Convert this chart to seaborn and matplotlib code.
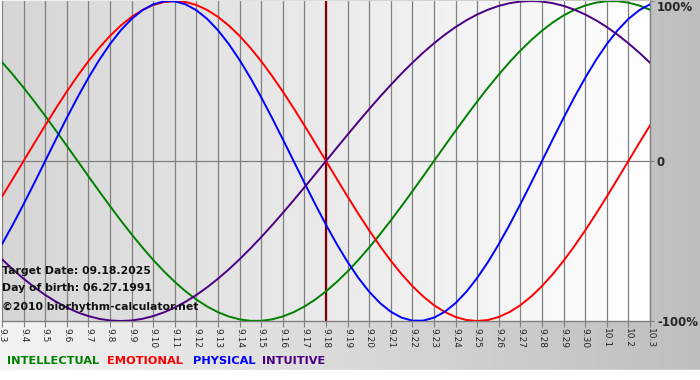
import numpy as np
import pandas as pd
import matplotlib
matplotlib.use("Agg")
import matplotlib.pyplot as plt
import seaborn as sns
from matplotlib.colors import LinearSegmentedColormap

# ---- data (at half-day steps, 9.3 .. 10.3) ----
dates = ["9.3", "9.4", "9.5", "9.6", "9.7", "9.8", "9.9", "9.10", "9.11", "9.12",
         "9.13", "9.14", "9.15", "9.16", "9.17", "9.18", "9.19", "9.20", "9.21", "9.22",
         "9.23", "9.24", "9.25", "9.26", "9.27", "9.28", "9.29", "9.30", "10.1", "10.2", "10.3"]

physical = [-0.5196, -0.3984, -0.2698, -0.1362, 0.0,
            0.1362, 0.2698, 0.3984, 0.5196, 0.6311, 0.7308, 0.8170, 0.8879, 0.9423, 0.9791, 0.9977,
            0.9977, 0.9791, 0.9423, 0.8879, 0.8170, 0.7308, 0.6311, 0.5196, 0.3984, 0.2698, 0.1362,
            0.0,
            -0.1362, -0.2698, -0.3984, -0.5196, -0.6311, -0.7308, -0.8170, -0.8879, -0.9423, -0.9791, -0.9977,
            -0.9977, -0.9791, -0.9423, -0.8879, -0.8170, -0.7308, -0.6311, -0.5196, -0.3984, -0.2698, -0.1362,
            0.0,
            0.1362, 0.2698, 0.3984, 0.5196, 0.6311, 0.7308, 0.8170, 0.8879, 0.9423, 0.9791]

emotional = [-0.2225, -0.1120, 0.0,
             0.1120, 0.2225, 0.3303, 0.4339, 0.5320, 0.6235, 0.7071, 0.7818, 0.8467, 0.9010, 0.9439, 0.9749, 0.9937,
             1.0,
             0.9937, 0.9749, 0.9439, 0.9010, 0.8467, 0.7818, 0.7071, 0.6235, 0.5320, 0.4339, 0.3303, 0.2225, 0.1120,
             0.0,
             -0.1120, -0.2225, -0.3303, -0.4339, -0.5320, -0.6235, -0.7071, -0.7818, -0.8467, -0.9010, -0.9439, -0.9749, -0.9937,
             -1.0,
             -0.9937, -0.9749, -0.9439, -0.9010, -0.8467, -0.7818, -0.7071, -0.6235, -0.5320, -0.4339, -0.3303, -0.2225, -0.1120,
             0.0, 0.1120, 0.2225]

intellectual = [0.6182, 0.5406, 0.4582, 0.3717, 0.2817, 0.1893, 0.0951, 0.0,
                -0.0951, -0.1893, -0.2817, -0.3717, -0.4582, -0.5406, -0.6182, -0.6901, -0.7557, -0.8146,
                -0.8660, -0.9096, -0.9450, -0.9718, -0.9898, -0.9989, -0.9989, -0.9898, -0.9718, -0.9450,
                -0.9096, -0.8660, -0.8146, -0.7557, -0.6901, -0.6182, -0.5406, -0.4582, -0.3717, -0.2817,
                -0.1893, -0.0951, 0.0,
                0.0951, 0.1893, 0.2817, 0.3717, 0.4582, 0.5406, 0.6182, 0.6901, 0.7557, 0.8146,
                0.8660, 0.9096, 0.9450, 0.9718, 0.9898, 0.9989, 0.9989, 0.9898, 0.9718, 0.9450]

intuitive = [-0.6142, -0.6773, -0.7357, -0.7891, -0.8372, -0.8795, -0.9158, -0.9458, -0.9694, -0.9864,
             -0.9966, -1.0, -0.9966, -0.9864, -0.9694, -0.9458, -0.9158, -0.8795, -0.8372, -0.7891,
             -0.7357, -0.6773, -0.6142, -0.5469, -0.4759, -0.4017, -0.3247, -0.2455, -0.1646, -0.0826,
             0.0,
             0.0826, 0.1646, 0.2455, 0.3247, 0.4017, 0.4759, 0.5469, 0.6142, 0.6773, 0.7357,
             0.7891, 0.8372, 0.8795, 0.9158, 0.9458, 0.9694, 0.9864, 0.9966, 1.0, 0.9966,
             0.9864, 0.9694, 0.9458, 0.9158, 0.8795, 0.8372, 0.7891, 0.7357, 0.6773, 0.6142]

series_names = ["INTELLECTUAL", "EMOTIONAL", "PHYSICAL", "INTUITIVE"]
series_values = [intellectual, emotional, physical, intuitive]
series_colors = ["#008000", "#ff0000", "#0000ff", "#4b0082"]

target_label = "9.18"
y_ticks = [-1, 0, 1]
y_ticklabels = ["-100%", "0", "100%"]
info_lines = ["Target Date: 09.18.2025", "Day of birth: 06.27.1991", "\u00a92010 biorhythm-calculator.net"]

# ---- build long table (half-day sample steps) ----
rows = []
for name, vals in zip(series_names, series_values):
    for i, v in enumerate(vals):
        rows.append({"day": i / 2.0, "value": v, "rhythm": name})
df = pd.DataFrame(rows)

sns.set_style("white")
plt.rcParams['font.family'] = ['DejaVu Sans']

fig = plt.figure(figsize=(7.0, 3.8), dpi=100)

# figure background gradient (white left -> gray right)
bg = fig.add_axes([0, 0, 1, 1], zorder=-10)
grad = np.linspace(0, 1, 256).reshape(1, -1)
cm_fig = LinearSegmentedColormap.from_list("figbg", ["#f4f4f4", "#bebebe"])
bg.imshow(grad, cmap=cm_fig, aspect="auto", extent=[0, 1, 0, 1])
bg.axhspan(0, 10 / 380, color="white", zorder=2)
bg.set_xlim(0, 1)
bg.set_ylim(0, 1)
bg.axis("off")

ax = fig.add_axes([2 / 700, 59 / 380, 648 / 700, 320 / 380])
cm_ax = LinearSegmentedColormap.from_list("axbg", ["#d6d6d6", "#ffffff"])
ax.imshow(grad, cmap=cm_ax, aspect="auto", extent=[0, 1, 0, 1],
          transform=ax.transAxes, zorder=0)

n = len(dates)
for d in range(n):
    ax.axvline(d, color="#808080", lw=0.9, zorder=1)
ax.axhline(0, color="#808080", lw=0.9, zorder=1)
ax.axvline(dates.index(target_label), color="#800000", lw=1.6, zorder=2)

sns.lineplot(data=df, x="day", y="value", hue="rhythm", hue_order=series_names,
             palette=series_colors, ax=ax, lw=1.4, legend=False, zorder=3)

ax.set_xlim(0, n - 1)
ax.set_ylim(-1, 1)
ax.set_xlabel("")
ax.set_ylabel("")

ax.set_xticks(range(n))
ax.set_xticklabels(dates, rotation=-90, fontsize=6.5)
ax.tick_params(axis="x", length=4, color="#808080", pad=1, bottom=True)

ax.yaxis.tick_right()
ax.set_yticks(y_ticks)
ax.set_yticklabels(y_ticklabels, fontsize=8.5, fontweight="bold")
ax.tick_params(axis="y", length=3, color="#808080", pad=2, right=True)
ax.get_yticklabels()[-1].set_va("top")

for side in ["left", "top"]:
    ax.spines[side].set_visible(False)
for side in ["right", "bottom"]:
    ax.spines[side].set_color("#808080")
    ax.spines[side].set_linewidth(1.0)

# info text
ys = [271, 288, 307]
for txt, yy in zip(info_lines, ys):
    fig.text(2 / 700, 1 - yy / 380, txt, fontsize=7.8, fontweight="bold",
             color="#111111", va="center", ha="left")

# legend text
legend_x = [7, 107, 193, 262]
for name, col, xp in zip(series_names, series_colors, legend_x):
    fig.text(xp / 700, 1 - 361 / 380, name, fontsize=8.2, color=col,
             va="center", ha="left", fontweight="bold")

fig.savefig("out.png", dpi=100)
